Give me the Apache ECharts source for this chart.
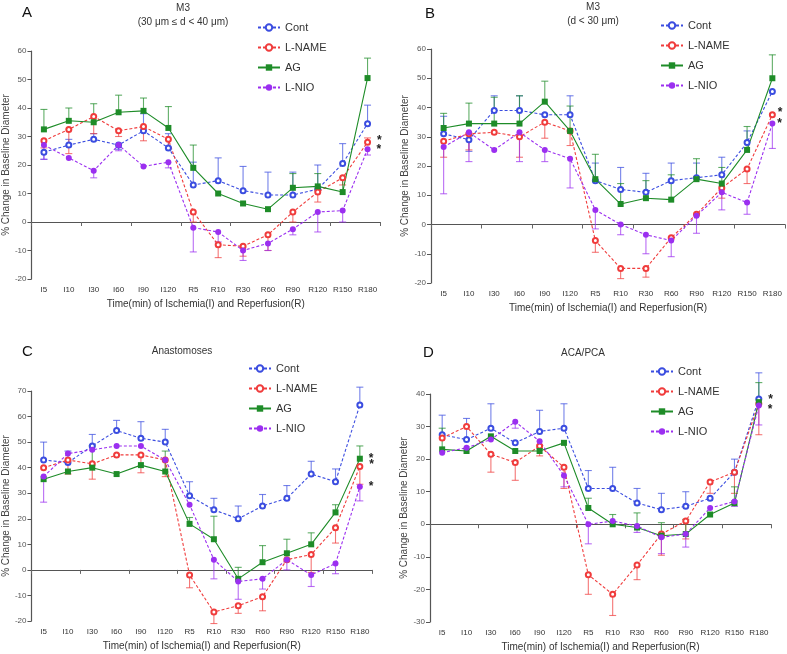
<!DOCTYPE html>
<html>
<head>
<meta charset="utf-8">
<script src="https://cdn.jsdelivr.net/npm/echarts@6/dist/echarts.min.js"></script>
<style>
  html, body { margin: 0; padding: 0; background: #fff; }
  #chart { width: 787px; height: 654px; }
</style>
</head>
<body>
<div id="chart"></div>
<script>
// categories: ischemia (I) and reperfusion (R) time points
const cats = ['I5', 'I10', 'I30', 'I60', 'I90', 'I120', 'R5', 'R10', 'R30', 'R60', 'R90', 'R120', 'R150', 'R180'];
const names = ['Cont', 'L-NAME', 'AG', 'L-NIO'];

// panel A  M3 (30-40 um)   values and error bar end values (null = no bar)
const aCont = [24.5, 27, 29, 27, 32, 26, 13, 14.5, 11, 9.5, 9.5, 11.5, 20.5, 34.5];
const aContEnd = [22, 29, 31, 25.5, 38, 31, 21, 22.5, 19.5, 17.5, 17.5, 20, 27.5, 41];
const aLname = [28.5, 32.5, 37, 32, 33.5, 29, 3.5, -8, -8.5, -4.5, 3.5, 10.5, 15.5, 28];
const aLnameEnd = [26, 24, 31, 30, 28.5, 26, 0, -12.5, -12, -10, 0, 7, 13, 29.5];
const aAg = [32.5, 35.5, 35, 38.5, 39, 33, 19, 10, 6.5, 4.5, 12, 12.5, 10.5, 50.5];
const aAgEnd = [39.5, 40, 41.5, 44.5, 43.5, 40.5, 27, null, null, null, 17, 17, 15.5, 57.5];
const aLnio = [27, 22.5, 18, 27, 19.5, 21, -2, -3.5, -10, -7.5, -2.5, 3.5, 4, 25.5];
const aLnioEnd = [22, null, 15.5, 25, null, 19, -10.5, -7, -13.5, -10, -4.5, -3.5, 0, 23.5];

// panel B  M3 (d < 30 um)
const bCont = [31, 29, 39, 39, 37.5, 37.5, 15, 12, 11, 15, 16, 17, 28, 45.5];
const bContEnd = [37, 25, 44, 44, null, 44, 21, 19.5, 17.5, 21, 21, 23, 32, null];
const bLname = [28.5, 31, 31.5, 30, 35, 32, -5.5, -15, -15, -4.5, 3.5, 12.5, 19, 37.5];
const bLnameEnd = [23, 25.5, null, 23, 29.5, 27, -9.5, -18.5, -18, null, null, 9, 14, null];
const bAg = [33, 34.5, 34.5, 34.5, 42, 32, 15.5, 7, 9, 8.5, 15.5, 14, 25.5, 50];
const bAgEnd = [38, 41.5, 43.5, 44, 49, 40.5, 24, 14, 15, 17, 22.5, 19.5, 33.5, 58];
const bLnio = [26.5, 31.5, 25.5, 31.5, 25.5, 22.5, 5, 0, -3.5, -5.5, 3, 11, 7.5, 34.5];
const bLnioEnd = [10.5, 21.5, null, 21.5, 21.5, 12.5, -1.5, -3.5, -10, -11, -3, 5, 3.5, 26];

// panel C  Anastomoses
const cCont = [43, 42, 48.5, 54.5, 51.5, 50, 29, 23.5, 20, 25, 28, 37.5, 34.5, 64.5];
const cContEnd = [50, 46.5, 53, 58.5, 58, 55, 34.5, 28, 25, 29.5, 33, 42.5, 39.5, 71.5];
const cLname = [40, 43, 41.5, 45, 45, 43, -2, -16.5, -14, -10.5, 4, 6, 16.5, 40.5];
const cLnameEnd = [null, 37.5, 35.5, null, 38, 36.5, -7, -21, -17, -16, null, -1, 10.5, 33.5];
const cAg = [35.5, 38.5, 40, 37.5, 41, 38.5, 18, 12, -3.5, 3, 6.5, 10, 22.5, 43.5];
const cAgEnd = [null, null, 48.5, null, null, 46.5, 20.5, 21, 1, 9.5, 12, 14.5, 25.5, 48.5];
const cLnio = [36.5, 45.5, 47, 48.5, 48.5, 43, 25.5, 4, -4.5, -3.5, 4, -2, 2.5, 32.5];
const cLnioEnd = [26.5, null, null, null, null, null, null, -3.5, -11.5, -7.5, 0, -6.5, -1.5, 27];

// panel D  ACA/PCA
const dCont = [27.5, 26, 29.5, 25, 28.5, 29.5, 11, 11, 6.5, 4.5, 5.5, 8, 16, 38.5];
const dContEnd = [33.5, 32.5, 37, null, 35, 37, 16.5, 17.5, 11, 9.5, 10, null, 20, 46.5];
const dLname = [26.5, 30, 21.5, 19, 24, 17.5, -15.5, -21.5, -12.5, -3, 1, 13, 16, 37];
const dLnameEnd = [null, null, 16, 13.5, 21, 11, -21.5, -28, -17, -9.5, -4.5, 9.5, 9.5, 27.5];
const dAg = [23, 22.5, 27, 22.5, 22.5, 25, 5, 0, -1, -3.5, -3, 3, 6.5, 37.5];
const dAgEnd = [29.5, null, null, null, null, null, 8, 3, 3.5, 0.5, 1.5, null, 11.5, 43.5];
const dLnio = [22, 23.5, 26, 31.5, 25.5, 15, 0, 1, -0.5, -4, -3, 5, 7, 36.5];
const dLnioEnd = [null, null, null, 29.5, null, 11.5, -6, null, -2.5, -9, -7, null, 5.5, 30.5];

const colors = ['#3b4de0', '#f03c3c', '#1e8c28', '#9b2ff0'];
const symbols = ['emptyCircle', 'emptyCircle', 'rect', 'circle'];
const symbolSizes = [5, 5, 6, 6];
const dashes = [[3, 2], [3, 2], 'solid', [3, 2]];
const font = 'Liberation Sans, Arial, sans-serif';

// stars: [series index, label distance, vertical offset]
const panels = [
    { letter: 'A', lx: 22, ly: 5, title: ['M3', '(30 μm ≤ d < 40 μm)'], tx: 183, ty: 3,
      grid: { left: 31, top: 51, width: 349, height: 228 }, min: -20, max: 60,
      legend: { left: 252, top: 17 },
      vals: [aCont, aLname, aAg, aLnio], ends: [aContEnd, aLnameEnd, aAgEnd, aLnioEnd],
      stars: [[1, 6, -2], [3, 6, 0]] },
    { letter: 'B', lx: 425, ly: 6, title: ['M3', '(d < 30 μm)'], tx: 593, ty: 2,
      grid: { left: 431, top: 49, width: 354, height: 234 }, min: -20, max: 60,
      legend: { left: 655, top: 15 },
      vals: [bCont, bLname, bAg, bLnio], ends: [bContEnd, bLnameEnd, bAgEnd, bLnioEnd],
      stars: [[1, 2, -2], [3, 2, 0]] },
    { letter: 'C', lx: 22, ly: 344, title: ['Anastomoses'], tx: 182, ty: 346,
      grid: { left: 30, top: 391, width: 342, height: 230 }, min: -20, max: 70,
      legend: { left: 243, top: 358 },
      vals: [cCont, cLname, cAg, cLnio], ends: [cContEnd, cLnameEnd, cAgEnd, cLnioEnd],
      stars: [[1, 6, -2], [2, 6, 0], [3, 6, 0]] },
    { letter: 'D', lx: 423, ly: 345, title: ['ACA/PCA'], tx: 583, ty: 348,
      grid: { left: 430, top: 394, width: 341, height: 228 }, min: -30, max: 40,
      legend: { left: 645, top: 361 },
      vals: [dCont, dLname, dAg, dLnio], ends: [dContEnd, dLnameEnd, dAgEnd, dLnioEnd],
      stars: [[1, 6, -4], [3, 6, 4]] }
];

const grids = [], xAxes = [], yAxes = [], legends = [], series = [], graphics = [];

panels.forEach(function (p, i) {
    grids.push(p.grid);
    // labelled axis at the bottom of the grid
    xAxes.push({
        type: 'category', data: cats, gridIndex: i, position: 'bottom',
        axisLine: { show: false, onZero: false }, axisTick: { show: false },
        axisLabel: { interval: 0, fontSize: 8, color: '#333', margin: 7, fontFamily: font },
        name: 'Time(min) of Ischemia(I) and Reperfusion(R)', nameLocation: 'middle', nameGap: 20,
        nameTextStyle: { fontSize: 10, color: '#333', fontFamily: font }
    });
    // zero line with ticks
    xAxes.push({
        type: 'category', data: cats, gridIndex: i, position: 'bottom',
        axisLine: { onZero: true, lineStyle: { color: '#555', width: 1.2 } },
        axisTick: { show: true, length: 4, lineStyle: { color: '#666' } },
        axisLabel: { show: false }
    });
    yAxes.push({
        type: 'value', gridIndex: i, min: p.min, max: p.max, interval: 10,
        axisLine: { show: true, lineStyle: { color: '#555', width: 1.2 } },
        axisTick: { show: true, length: 4 },
        splitLine: { show: false },
        axisLabel: { fontSize: 8, color: '#555', margin: 5, fontFamily: font },
        name: '% Change in Baseline Diameter', nameLocation: 'middle', nameGap: 20,
        nameTextStyle: { fontSize: 10, color: '#444', fontFamily: font }
    });
    legends.push({
        data: names, orient: 'vertical', left: p.legend.left, top: p.legend.top,
        itemWidth: 22, itemHeight: 8, itemGap: 9,
        textStyle: { fontSize: 11, color: '#333', fontFamily: font }
    });

    p.vals.forEach(function (vals, s) {
        const last = vals.length - 1;
        const star = p.stars.filter(function (st) { return st[0] === s; })[0];
        const data = vals.map(function (v, k) {
            if (k === last && star) {
                return { value: v, label: { show: true, formatter: '*', position: 'right',
                    distance: star[1], offset: [0, star[2]],
                    fontSize: 12, fontWeight: 'bold', color: '#222' } };
            }
            return v;
        });
        series.push({
            name: names[s], type: 'line', xAxisIndex: i * 2, yAxisIndex: i, data: data,
            symbol: symbols[s], symbolSize: symbolSizes[s], clip: false, z: 3,
            itemStyle: { color: colors[s], borderWidth: 1 },
            lineStyle: { color: colors[s], width: 1.1, type: dashes[s] }
        });
        // error bars
        const ends = p.ends[s];
        const errData = [];
        vals.forEach(function (v, k) { if (ends[k] != null) errData.push([k, v, ends[k]]); });
        series.push({
            type: 'custom', xAxisIndex: i * 2, yAxisIndex: i, data: errData, z: 2, silent: true,
            clip: false,
            encode: { x: 0, y: [1, 2] },
            renderItem: function (params, api) {
                const a = api.coord([api.value(0), api.value(1)]);
                const b = api.coord([api.value(0), api.value(2)]);
                const st = { stroke: colors[s], lineWidth: 1.1, opacity: 0.7 };
                return { type: 'group', children: [
                    { type: 'line', shape: { x1: a[0], y1: a[1], x2: b[0], y2: b[1] }, style: st },
                    { type: 'line', shape: { x1: b[0] - 3.5, y1: b[1], x2: b[0] + 3.5, y2: b[1] }, style: st }
                ] };
            }
        });
    });

    graphics.push({ type: 'text', left: p.lx, top: p.ly,
        style: { text: p.letter, fontSize: 15, fill: '#111', fontFamily: font } });
    p.title.forEach(function (t, j) {
        graphics.push({ type: 'text', x: p.tx, y: p.ty + j * 14,
            style: { text: t, fontSize: 10, fill: '#333', textAlign: 'center', fontFamily: font } });
    });
});

const myChart = echarts.init(document.getElementById('chart'));
myChart.setOption({
    animation: false,
    textStyle: { fontFamily: font },
    grid: grids,
    xAxis: xAxes,
    yAxis: yAxes,
    legend: legends,
    series: series,
    graphic: graphics
});
window.onresize = myChart.resize;
</script>
</body>
</html>
